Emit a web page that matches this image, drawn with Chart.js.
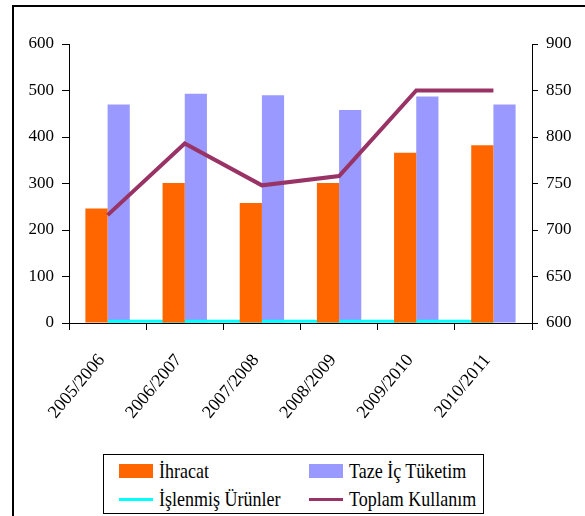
<!DOCTYPE html>
<html lang="tr">
<head>
  <meta charset="UTF-8">
  <title>Kullanım</title>
  <style>
    body {
      margin: 0;
      background: #fff;
      font-family: "Liberation Serif", "Times New Roman", serif;
    }

    .wrap {
      position: relative;
      width: 585px;
      height: 516px;
      overflow: hidden;
    }

    .frame {
      position: absolute;
      left: 12px;
      top: 5px;
      width: 700px;
      height: 700px;
      border: 2px solid #000;
    }

    canvas {
      position: absolute;
      left: 0;
      top: 0;
    }

    #legend {
      position: absolute;
      left: 103px;
      top: 454px;
      width: 381px;
      height: 60px;
      border: 1px solid #000;
      background: #fff;
      display: grid;
      grid-template-columns: 190px 180px;
      grid-auto-rows: 28px;
      padding: 2px 0 0 15px;
      box-sizing: border-box;
    }

    .item {
      display: flex;
      align-items: center;
      font-size: 18px;
      color: #000;
    }

    .item span.txt {
      display: inline-block;
      transform: scaleY(1.12);
    }

    .sw {
      width: 34px;
      margin-right: 6px;
      flex: none;
    }
  </style>
</head>
<body>

<div class="wrap">
  <div class="frame"></div>
  <canvas id="chart" width="585" height="516"></canvas>
  <div id="legend"></div>
</div>

<script src="https://cdn.jsdelivr.net/npm/chart.js"></script>
<script>
const seasons = ["2005/2006", "2006/2007", "2007/2008", "2008/2009", "2009/2010", "2010/2011"];
const ihracat = [246, 301, 258, 301, 366, 382];
const tazeIcTuketim = [470, 493, 490, 458, 487, 470];
const islenmisUrunler = [4, 4, 4, 4, 4, 4];
const toplamKullanim = [716, 793, 748, 758, 850, 850];

const leftTicks = [0, 100, 200, 300, 400, 500, 600];
const rightTicks = [600, 650, 700, 750, 800, 850, 900];

const serif = "'Liberation Serif', 'Times New Roman', serif";

const axisTicks = {
  color: "#000",
  font: { family: serif, size: 17 }
};

const chart = new Chart(document.getElementById("chart"), {
  data: {
    labels: seasons,
    datasets: [
      {
        type: "bar",
        label: "İhracat",
        data: ihracat,
        backgroundColor: "#FF6600",
        yAxisID: "y",
        order: 1,
        categoryPercentage: 0.575,
        barPercentage: 1
      },
      {
        type: "bar",
        label: "Taze İç Tüketim",
        data: tazeIcTuketim,
        backgroundColor: "#9999FF",
        yAxisID: "y",
        order: 3,
        categoryPercentage: 0.575,
        barPercentage: 1
      },
      {
        type: "line",
        label: "İşlenmiş Ürünler",
        data: islenmisUrunler,
        borderColor: "#00FFFF",
        backgroundColor: "#00FFFF",
        borderWidth: 3,
        pointRadius: 0,
        yAxisID: "y",
        order: 2
      },
      {
        type: "line",
        label: "Toplam Kullanım",
        data: toplamKullanim,
        borderColor: "#993366",
        backgroundColor: "#993366",
        borderWidth: 4,
        pointRadius: 0,
        tension: 0,
        yAxisID: "y1",
        order: 0
      }
    ]
  },
  options: {
    responsive: false,
    animation: false,
    devicePixelRatio: 1,
    layout: { padding: { top: 44, left: 0, right: 0, bottom: 0 } },
    plugins: {
      legend: { display: false },
      tooltip: { enabled: false }
    },
    scales: {
      x: {
        offset: true,
        grid: {
          offset: true,
          drawOnChartArea: false,
          drawTicks: true,
          tickLength: 7,
          color: "#000",
          lineWidth: 1
        },
        border: { color: "#000", width: 1 },
        ticks: {
          color: "#000",
          font: { family: serif, size: 18 },
          autoSkip: false,
          minRotation: 50,
          maxRotation: 50,
          padding: 20,
          labelOffset: -6
        },
        afterFit: (scale) => { scale.height = 193; }
      },
      y: {
        position: "left",
        min: 0,
        max: 600,
        afterBuildTicks: (scale) => { scale.ticks = leftTicks.map(v => ({ value: v })); },
        grid: {
          drawOnChartArea: false,
          tickLength: 7,
          color: "#000"
        },
        border: { color: "#000", width: 1 },
        ticks: Object.assign({}, axisTicks, { padding: 8 }),
        afterFit: (scale) => { scale.width = 69; }
      },
      y1: {
        position: "right",
        min: 600,
        max: 900,
        afterBuildTicks: (scale) => { scale.ticks = rightTicks.map(v => ({ value: v })); },
        grid: {
          drawOnChartArea: false,
          tickLength: 6,
          color: "#000"
        },
        border: { color: "#000", width: 1 },
        ticks: Object.assign({}, axisTicks, { padding: 8 }),
        afterFit: (scale) => { scale.width = 53; }
      }
    }
  }
});

// legend laid out in two columns, row by row
const legendOrder = [0, 1, 2, 3];
const legendBox = document.getElementById("legend");
legendOrder.forEach(i => {
  const ds = chart.data.datasets[i];
  const item = document.createElement("div");
  item.className = "item";
  const sw = document.createElement("span");
  sw.className = "sw";
  sw.style.background = ds.type === "bar" ? ds.backgroundColor : ds.borderColor;
  sw.style.height = ds.type === "bar" ? "14px" : "3px";
  const txt = document.createElement("span");
  txt.className = "txt";
  txt.textContent = ds.label;
  item.appendChild(sw);
  item.appendChild(txt);
  legendBox.appendChild(item);
});
</script>
</body>
</html>
